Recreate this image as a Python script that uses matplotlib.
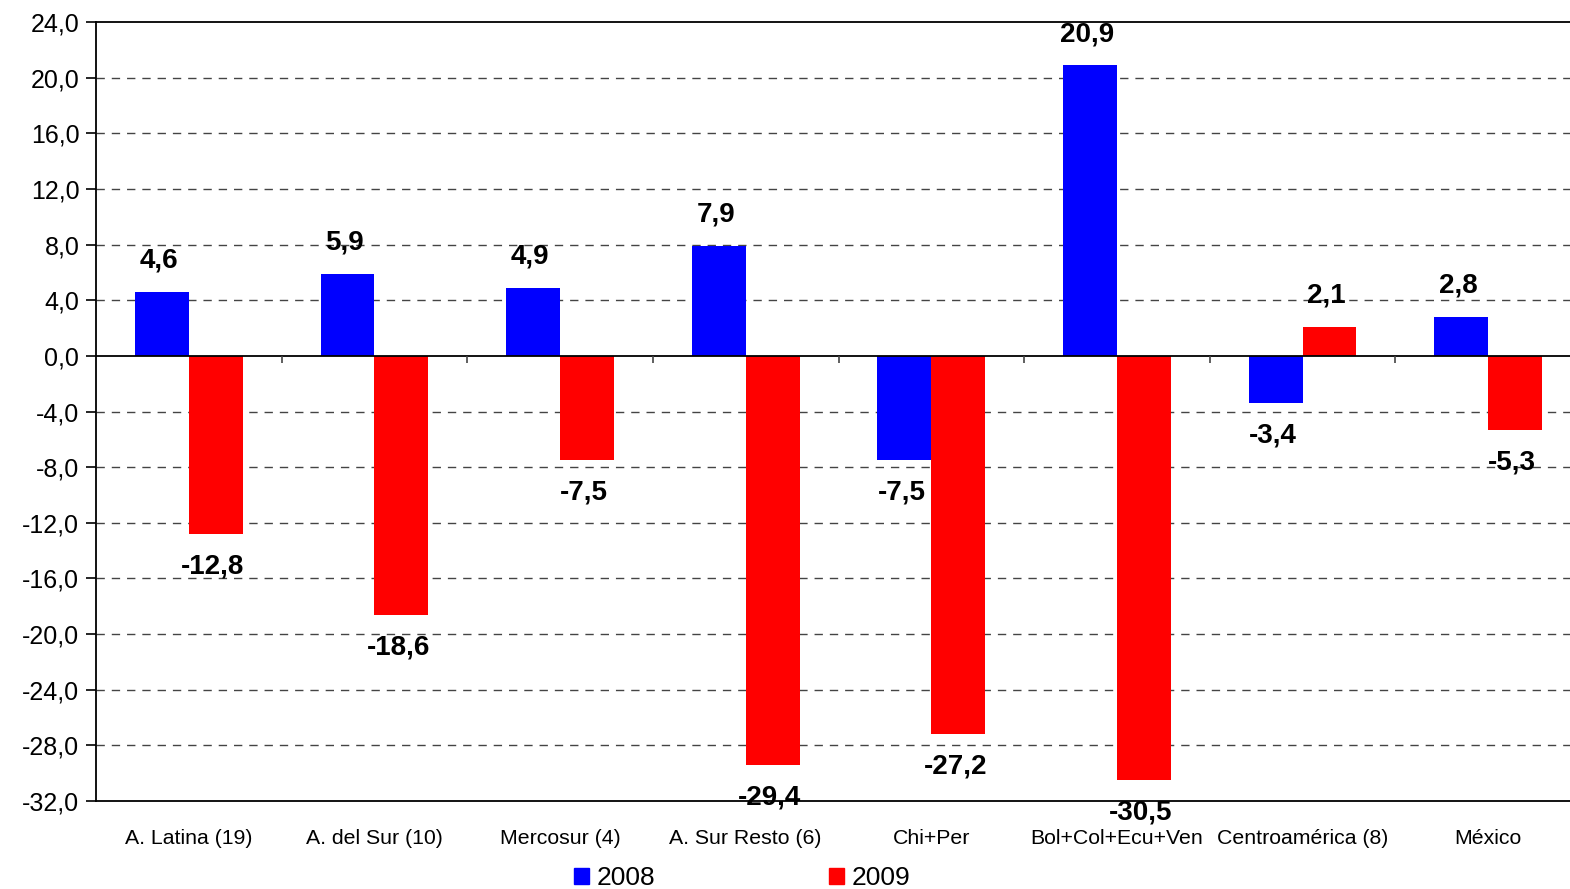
import matplotlib
matplotlib.use("Agg")
import matplotlib.pyplot as plt
import numpy as np
from matplotlib.patches import Patch

categories = ["A. Latina (19)", "A. del Sur (10)", "Mercosur (4)", "A. Sur Resto (6)",
              "Chi+Per", "Bol+Col+Ecu+Ven", "Centroamérica (8)", "México"]
v2008 = [4.6, 5.9, 4.9, 7.9, -7.5, 20.9, -3.4, 2.8]
v2009 = [-12.8, -18.6, -7.5, -29.4, -27.2, -30.5, 2.1, -5.3]
series_labels = ["2008", "2009"]
yticks = np.arange(-32, 25, 4)

BLUE, RED = "#0000ff", "#ff0000"
LABEL_FONT = ["Liberation Sans Narrow", "Liberation Sans", "DejaVu Sans"]
BASE_FONT = ["Liberation Sans", "DejaVu Sans"]


def fmt(v):
    return f"{v:.1f}".replace(".", ",")


fig = plt.figure(figsize=(15.7, 8.89), dpi=100)
# plot area runs slightly past the right edge of the canvas
ax = fig.add_axes([96 / 1570, 88 / 889, 1485 / 1570, 779 / 889])

x = np.arange(len(categories))
w = 0.29
bars_a = ax.bar(x - w / 2, v2008, w, color=BLUE, zorder=3)
bars_b = ax.bar(x + w / 2, v2009, w, color=RED, zorder=3)

ax.set_xlim(-0.5, len(categories) - 0.5)
ax.set_ylim(-32, 24)
ax.set_yticks(yticks)
ax.set_yticklabels([fmt(t) for t in yticks], fontsize=18, family=BASE_FONT)
ax.set_xticks(x)
ax.set_xticklabels(categories, fontsize=15.3, family=BASE_FONT)
ax.tick_params(axis="x", length=0, pad=20)
ax.tick_params(axis="y", length=7, width=1.2, direction="out", pad=5)

# dashed gridlines, skipping the frame edges
for t in yticks[1:-1]:
    if t != 0:
        ax.axhline(t, color="#444444", lw=1, ls=(0, (6, 5)), zorder=1)
ax.axhline(0, color="black", lw=1.3, zorder=4)

# little tick marks on the zero line between groups
tick_len = 56 / 779 * 7
ax.vlines(np.arange(0.5, len(categories) - 0.5, 1), 0, -tick_len, color="#444444", lw=1.2, zorder=4)

for s in ["left", "top", "bottom"]:
    ax.spines[s].set_linewidth(1.3)
ax.spines["right"].set_visible(False)

for bars, vals in [(bars_a, v2008), (bars_b, v2009)]:
    for b, v in zip(bars, vals):
        cx = b.get_x() + b.get_width() / 2
        if v >= 0:
            ax.annotate(fmt(v), (cx, v), xytext=(-2, 13), textcoords="offset points",
                        ha="center", va="bottom", fontsize=20, fontweight="bold",
                        family=LABEL_FONT, zorder=5)
        else:
            ax.annotate(fmt(v), (cx, v), xytext=(-2, -14), textcoords="offset points",
                        ha="center", va="top", fontsize=20, fontweight="bold",
                        family=LABEL_FONT, zorder=5)

handles = [Patch(color=BLUE), Patch(color=RED)]
fig.legend(handles, series_labels, loc="center", bbox_to_anchor=(742 / 1570, 11 / 889),
           ncol=2, frameon=False, prop={"family": BASE_FONT, "size": 19},
           handlelength=0.57, handleheight=0.57, handletextpad=0.28, columnspacing=6.6,
           borderpad=0.1)

fig.savefig("out.png", dpi=100)
